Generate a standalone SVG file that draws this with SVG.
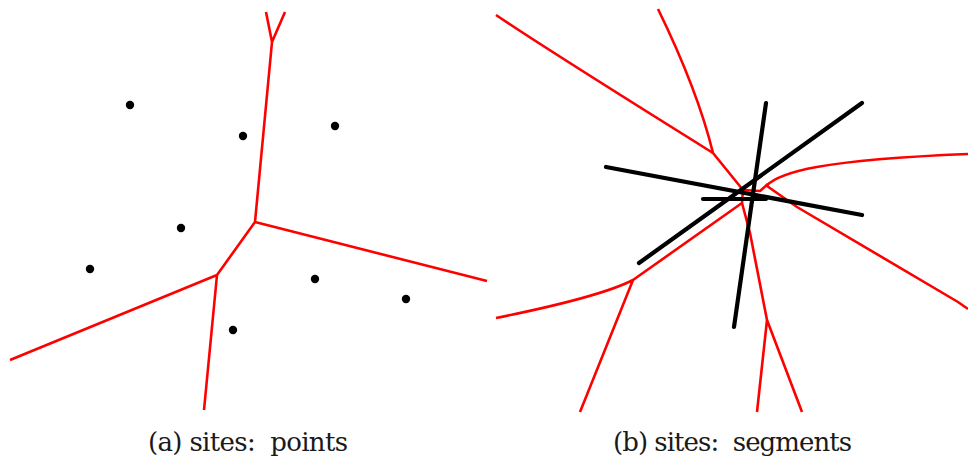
<svg xmlns="http://www.w3.org/2000/svg" width="968" height="464" viewBox="0 0 968 464">
<style>
.v{fill:none;stroke:#ff0000;stroke-width:2.6;stroke-linejoin:round}
.s{fill:none;stroke:#000;stroke-width:4.2;stroke-linecap:round}
.p{fill:#000}
.cap{font-size:26px;fill:#1a1a1a}
</style>
<rect width="968" height="464" fill="#fff"/>
<g id="panel-a">
  <g id="voronoi-a">
    <path class="v" d="M266,12 L272,42 L285,12 M272,42 L255,222 L487,281 M255,222 L217,275 L10,360 M217,275 L204,410"/>
  </g>
  <g id="sites-a">
    <circle class="p" cx="130" cy="105" r="4.2"/>
    <circle class="p" cx="243" cy="136" r="4.2"/>
    <circle class="p" cx="335" cy="126" r="4.2"/>
    <circle class="p" cx="181" cy="228" r="4.2"/>
    <circle class="p" cx="90" cy="269" r="4.2"/>
    <circle class="p" cx="315" cy="279" r="4.2"/>
    <circle class="p" cx="406" cy="299" r="4.2"/>
    <circle class="p" cx="233" cy="330" r="4.2"/>
  </g>
</g>
<g id="panel-b">
  <g id="voronoi-b">
    <path class="v" d="M496,15 C540,45 620,95 713,153"/>
    <path class="v" d="M658,9 C678,50 700,100 713,153 L743,190 L760,191 L768,184"/>
    <path class="v" d="M766,186 C780,172 820,160 968,154"/>
    <path class="v" d="M767,186 L797,207 L958,302 L968,309"/>
    <path class="v" d="M743,190 L742,203 L633,280 Q600,297 496,318 M633,280 L580,412"/>
    <path class="v" d="M742,203 L750,233 L767,320 L757,412 M767,320 L802,412"/>
  </g>
  <g id="sites-b">
    <line class="s" x1="766" y1="103" x2="734" y2="327"/>
    <line class="s" x1="862" y1="103" x2="639" y2="263"/>
    <line class="s" x1="606" y1="167" x2="862" y2="215"/>
    <line class="s" x1="703" y1="199" x2="766" y2="199"/>
  </g>
</g>
<g id="captions">
  <text class="cap" font-family="'DejaVu Serif','Liberation Serif',serif" x="148" y="451" textLength="200" lengthAdjust="spacing" xml:space="preserve">(a) sites:  points</text>
  <text class="cap" font-family="'DejaVu Serif','Liberation Serif',serif" x="613" y="451" textLength="239" lengthAdjust="spacing" xml:space="preserve">(b) sites:  segments</text>
</g>
</svg>
